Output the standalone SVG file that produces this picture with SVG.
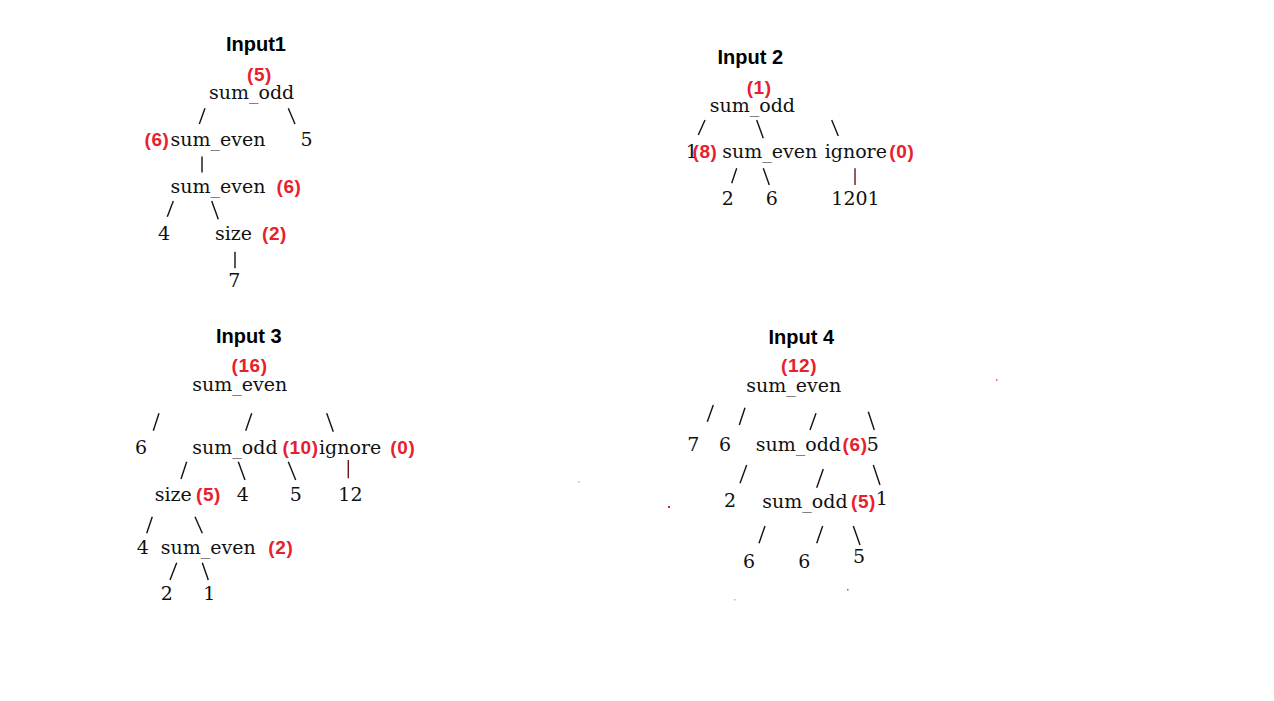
<svg xmlns="http://www.w3.org/2000/svg" width="1274" height="701" viewBox="0 0 1274 701">
<style>
.t{font-family:"DejaVu Serif","Liberation Serif",serif;font-size:19px;fill:#111}
.v{font-family:"Liberation Sans",Arial,sans-serif;font-weight:bold;font-size:19px;fill:#e8202c;letter-spacing:0.6px}
.h{font-family:"Liberation Sans",Arial,sans-serif;font-weight:bold;font-size:20px;fill:#000}
.c line{stroke:#111;stroke-width:1.4}
.c line.r{stroke:#6a1414}
</style>
<rect width="1274" height="701" fill="#fff"/>
<g id="connectors" class="c">
<line x1="199.3" y1="124" x2="205" y2="108.3"/>
<line x1="288.3" y1="108.3" x2="295" y2="124"/>
<line x1="202" y1="156.5" x2="202" y2="172.5"/>
<line x1="167.3" y1="216.7" x2="173.3" y2="201"/>
<line x1="211.7" y1="201" x2="218.3" y2="219.3"/>
<line x1="235" y1="251.7" x2="235" y2="268.3"/>
<line x1="698.3" y1="135" x2="705" y2="120"/>
<line x1="756.7" y1="120" x2="763.3" y2="138.3"/>
<line x1="831.7" y1="120" x2="838.3" y2="136"/>
<line x1="731.7" y1="183.3" x2="736.7" y2="168.3"/>
<line x1="763.3" y1="168.3" x2="769.3" y2="185"/>
<line class="r" x1="855" y1="168.3" x2="855" y2="185"/>
<line x1="153.3" y1="430.7" x2="159" y2="413.3"/>
<line x1="245.7" y1="430.7" x2="251.7" y2="413.3"/>
<line x1="326.7" y1="413.3" x2="333.3" y2="431.7"/>
<line x1="181" y1="479" x2="186.7" y2="461.7"/>
<line x1="238.3" y1="461.7" x2="245" y2="480"/>
<line x1="288.3" y1="461.7" x2="295.7" y2="480"/>
<line class="r" x1="348.3" y1="460" x2="348.3" y2="478.3"/>
<line x1="146.7" y1="533.3" x2="152.3" y2="516.7"/>
<line x1="195" y1="516.7" x2="202.3" y2="533.3"/>
<line x1="170" y1="580" x2="176.7" y2="562.7"/>
<line x1="202.3" y1="562.7" x2="208.3" y2="580"/>
<line x1="707.3" y1="421.7" x2="713.3" y2="405"/>
<line x1="739.3" y1="425" x2="745" y2="407.7"/>
<line x1="810" y1="430" x2="816" y2="413.3"/>
<line x1="868.3" y1="411.7" x2="874.3" y2="430"/>
<line x1="740" y1="483.3" x2="746.7" y2="465"/>
<line x1="816.7" y1="487.7" x2="823.3" y2="469"/>
<line x1="873.3" y1="465" x2="880" y2="485"/>
<line x1="759" y1="543.3" x2="765" y2="526"/>
<line x1="816.7" y1="543.3" x2="822.7" y2="526"/>
<line x1="853.3" y1="526" x2="860" y2="545"/>
</g>

<g id="input1">
<text class="h" x="226" y="50.5">Input1</text>
<g id="i1-root"><text class="v" x="247" y="80.5">(5)</text><text class="t" x="209" y="99">sum_odd</text></g>
<g id="i1-sumeven1"><text class="v" x="144.5" y="146">(6)</text><text class="t" x="170.5" y="146">sum_even</text></g>
<g id="i1-5"><text class="t" x="300.5" y="146">5</text></g>
<g id="i1-sumeven2"><text class="t" x="170.5" y="192.7">sum_even</text><text class="v" x="276.5" y="192.7">(6)</text></g>
<g id="i1-4"><text class="t" x="158" y="240">4</text></g>
<g id="i1-size"><text class="t" x="215" y="240">size</text><text class="v" x="262" y="240">(2)</text></g>
<g id="i1-7"><text class="t" x="228.3" y="287.3">7</text></g>
</g>

<g id="input2">
<text class="h" x="717.5" y="64">Input 2</text>
<g id="i2-root"><text class="v" x="746.7" y="94">(1)</text><text class="t" x="709.7" y="111.7">sum_odd</text></g>
<g id="i2-1"><text class="t" x="685.7" y="158.3">1</text></g>
<g id="i2-sumeven"><text class="v" x="692.5" y="158.3">(8)</text><text class="t" x="722.3" y="158.3">sum_even</text></g>
<g id="i2-ignore"><text class="t" x="824.7" y="158.3">ignore</text><text class="v" x="889.3" y="158.3">(0)</text></g>
<g id="i2-2"><text class="t" x="721.7" y="205">2</text></g>
<g id="i2-6"><text class="t" x="765.7" y="205">6</text></g>
<g id="i2-1201"><text class="t" x="831.3" y="205">1201</text></g>
</g>

<g id="input3">
<text class="h" x="216" y="343.3">Input 3</text>
<g id="i3-root"><text class="v" x="231.5" y="371.7">(16)</text><text class="t" x="192.3" y="390.7">sum_even</text></g>
<g id="i3-6"><text class="t" x="135" y="454">6</text></g>
<g id="i3-sumodd"><text class="t" x="192.3" y="453.5">sum_odd</text><text class="v" x="282.5" y="453.5">(10)</text></g>
<g id="i3-ignore"><text class="t" x="319" y="453.5">ignore</text><text class="v" x="390.3" y="453.5">(0)</text></g>
<g id="i3-size"><text class="t" x="154.7" y="500.7">size</text><text class="v" x="196" y="500.7">(5)</text></g>
<g id="i3-4a"><text class="t" x="236.7" y="500.7">4</text></g>
<g id="i3-5"><text class="t" x="289.7" y="500.7">5</text></g>
<g id="i3-12"><text class="t" x="338.3" y="500.7">12</text></g>
<g id="i3-4b"><text class="t" x="136.7" y="554.3">4</text></g>
<g id="i3-sumeven"><text class="t" x="160.7" y="554">sum_even</text><text class="v" x="268.3" y="554">(2)</text></g>
<g id="i3-2"><text class="t" x="160.7" y="600">2</text></g>
<g id="i3-1"><text class="t" x="203.3" y="600">1</text></g>
</g>

<g id="input4">
<text class="h" x="768.5" y="344">Input 4</text>
<g id="i4-root"><text class="v" x="781" y="371.7">(12)</text><text class="t" x="746.3" y="391.7">sum_even</text></g>
<g id="i4-7"><text class="t" x="687.3" y="451">7</text></g>
<g id="i4-6a"><text class="t" x="719" y="451">6</text></g>
<g id="i4-sumodd1"><text class="t" x="755.7" y="451">sum_odd</text><text class="v" x="842.6" y="451">(6)</text></g>
<g id="i4-5a"><text class="t" x="866.7" y="451">5</text></g>
<g id="i4-2"><text class="t" x="724" y="506.7">2</text></g>
<g id="i4-sumodd2"><text class="t" x="762.3" y="508.3">sum_odd</text><text class="v" x="851" y="508.3">(5)</text></g>
<g id="i4-1"><text class="t" x="875.7" y="505">1</text></g>
<g id="i4-6b"><text class="t" x="743" y="568.3">6</text></g>
<g id="i4-6c"><text class="t" x="798.3" y="568.3">6</text></g>
<g id="i4-5b"><text class="t" x="853" y="563.3">5</text></g>
</g>

<g id="specks">
<rect x="996" y="379" width="1.5" height="2" fill="#f07090"/>
<rect x="578" y="481" width="1.5" height="1.5" fill="#f0b060"/>
<rect x="668" y="506" width="2" height="2" fill="#e02030"/>
<rect x="734" y="599" width="1.5" height="1.5" fill="#f0b060"/>
<rect x="847" y="589" width="1.5" height="1.5" fill="#e04050"/>
</g>
</svg>
